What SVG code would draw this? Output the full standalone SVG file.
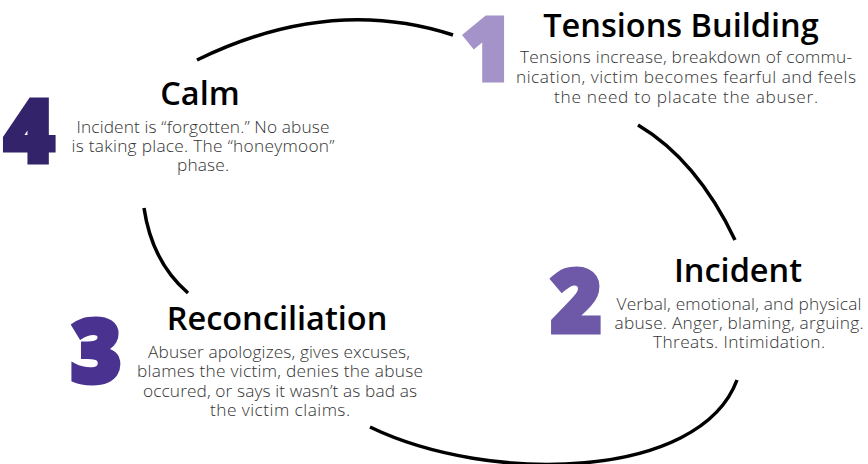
<svg xmlns="http://www.w3.org/2000/svg" width="868" height="464" viewBox="0 0 868 464">
<style>
.arc{fill:none;stroke:#000;stroke-width:3.5;stroke-linecap:butt}
.num{font-family:"Open Sans","Liberation Sans",sans-serif;font-weight:800;font-size:86px;stroke-width:5;stroke-linejoin:miter}
.title{font-family:"Open Sans","Liberation Sans",sans-serif;font-weight:600;font-size:32.5px;fill:#000;text-anchor:middle}
.body{font-family:"Open Sans","Liberation Sans",sans-serif;font-weight:300;font-size:17.3px;fill:#333;text-anchor:middle}
</style>
<rect width="868" height="464" fill="#fff"/>
<g id="connectors">
<path class="arc" d="M197,60 Q330,-5 453,35"/>
<path class="arc" d="M638,125 Q697,160 735,240"/>
<path class="arc" d="M737,380 C700,480 490,485 370,427"/>
<path class="arc" d="M144,208 Q152,262 188,293"/>
</g>
<g id="tensions">
<text class="num" x="462" y="80" fill="#a493c8" stroke="#a493c8">1</text>
<text class="title" x="681" y="37">Tensions Building</text>
<text class="body" x="686" y="63" textLength="332">Tensions increase, breakdown of commu-</text>
<text class="body" x="686" y="83" textLength="340">nication, victim becomes fearful and feels</text>
<text class="body" x="686" y="103" textLength="264">the need to placate the abuser.</text>
</g>
<g id="incident">
<text class="num" x="551" y="332" fill="#6e58a8" stroke="#6e58a8">2</text>
<text class="title" x="738" y="282">Incident</text>
<text class="body" x="739" y="310" textLength="245">Verbal, emotional, and physical</text>
<text class="body" x="739" y="329" textLength="249">abuse. Anger, blaming, arguing.</text>
<text class="body" x="739" y="348" textLength="172">Threats. Intimidation.</text>
</g>
<g id="reconciliation">
<text class="num" x="71" y="382" fill="#4a3290" stroke="#4a3290">3</text>
<text class="title" x="277" y="330">Reconciliation</text>
<text class="body" x="279" y="358" textLength="262">Abuser apologizes, gives excuses,</text>
<text class="body" x="280" y="377" textLength="286">blames the victim, denies the abuse</text>
<text class="body" x="280" y="397" textLength="274">occured, or says it wasn’t as bad as</text>
<text class="body" x="280" y="416" textLength="140">the victim claims.</text>
</g>
<g id="calm">
<text class="num" x="4" y="162" fill="#33236b" stroke="#33236b">4</text>
<text class="title" x="200" y="105">Calm</text>
<text class="body" x="203" y="133" textLength="253">Incident is “forgotten.” No abuse</text>
<text class="body" x="203" y="152" textLength="263">is taking place. The “honeymoon”</text>
<text class="body" x="203" y="171" textLength="52">phase.</text>
</g>
</svg>
